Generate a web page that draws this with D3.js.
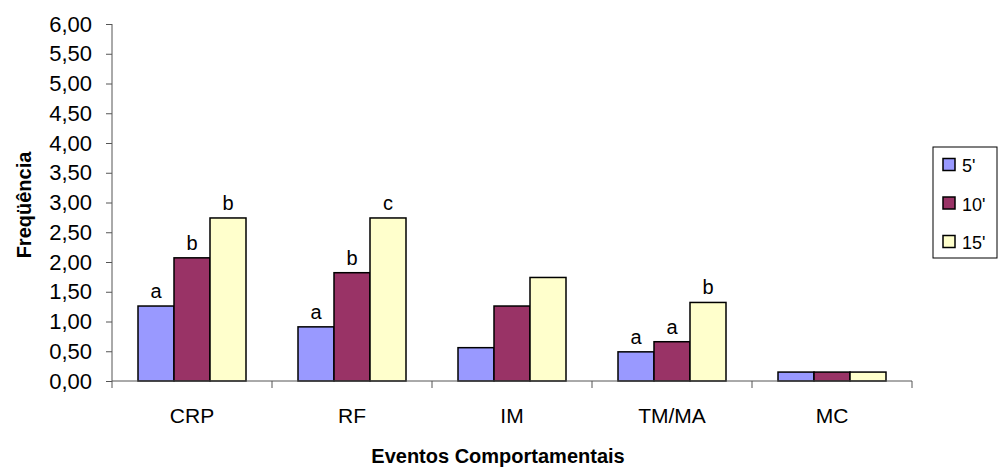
<html>
<script src="https://d3js.org/d3.v7.min.js"></script>
<body style="margin:0"></body>
<script>
const categories = ['CRP', 'RF', 'IM', 'TM/MA', 'MC'];
const series = ["5'", "10'", "15'"];
const values5 = [1.26, 0.91, 0.56, 0.49, 0.15];
const values10 = [2.07, 1.82, 1.26, 0.66, 0.15];
const values15 = [2.74, 2.74, 1.74, 1.32, 0.15];
const letters5 = ['a', 'a', '', 'a', ''];
const letters10 = ['b', 'b', '', 'a', ''];
const letters15 = ['b', 'c', '', 'b', ''];
const yTicks = [0, 0.5, 1, 1.5, 2, 2.5, 3, 3.5, 4, 4.5, 5, 5.5, 6];
const colors = ['#9999ff', '#993366', '#ffffcc'];

const width = 998, height = 468;
const font = 'Liberation Sans, Arial, sans-serif';
const svg = d3.select('body').append('svg')
  .attr('width', width).attr('height', height)
  .style('font-family', font);

const x = d3.scaleBand().domain(categories).range([112, 912]);
const xs = d3.scaleBand().domain(series).range([26, 134]);
const y = d3.scaleLinear().domain([0, 6]).range([381, 24]);

const rows = [];
categories.forEach((c, i) => {
  rows.push({c, s: series[0], v: values5[i], l: letters5[i], k: 0});
  rows.push({c, s: series[1], v: values10[i], l: letters10[i], k: 1});
  rows.push({c, s: series[2], v: values15[i], l: letters15[i], k: 2});
});

// bars
svg.append('g').selectAll('rect').data(rows).join('rect')
  .attr('x', d => x(d.c) + xs(d.s))
  .attr('y', d => y(d.v))
  .attr('width', xs.bandwidth())
  .attr('height', d => y(0) - y(d.v))
  .attr('fill', d => colors[d.k])
  .attr('stroke', '#000').attr('stroke-width', 1.5);

// letters above bars
svg.append('g').selectAll('text').data(rows.filter(d => d.l)).join('text')
  .attr('x', d => x(d.c) + xs(d.s) + xs.bandwidth() / 2)
  .attr('y', d => y(d.v) - 8)
  .attr('text-anchor', 'middle')
  .attr('font-size', 20)
  .text(d => d.l);

// y axis
const yAxis = svg.append('g').attr('transform', 'translate(112,0)')
  .call(d3.axisLeft(y).tickValues(yTicks).tickSize(6).tickPadding(14)
    .tickFormat(d => d3.format('.2f')(d).replace('.', ',')));
yAxis.selectAll('text').attr('font-size', 22).attr('fill', '#000').style('font-family', font);
yAxis.selectAll('line,path').attr('stroke', '#555');
yAxis.select('path').attr('d', 'M0,24V381');

// x axis
const xAxis = svg.append('g').attr('transform', 'translate(0,381)');
xAxis.append('line').attr('x1', 112).attr('x2', 912).attr('stroke', '#555');
xAxis.selectAll('.tk').data(categories.concat(['end'])).join('line')
  .attr('x1', (d, i) => i < categories.length ? x(d) : x.range()[1])
  .attr('x2', (d, i) => i < categories.length ? x(d) : x.range()[1])
  .attr('y1', 0).attr('y2', 7).attr('stroke', '#555');
xAxis.selectAll('text').data(categories).join('text')
  .attr('x', d => x(d) + x.bandwidth() / 2)
  .attr('y', 42)
  .attr('text-anchor', 'middle')
  .attr('font-size', 21)
  .text(d => d);

// titles
svg.append('text').attr('x', 498).attr('y', 463).attr('text-anchor', 'middle')
  .attr('font-size', 20).attr('font-weight', 'bold').text('Eventos Comportamentais');
svg.append('text').attr('transform', 'translate(31,205) rotate(-90)').attr('text-anchor', 'middle')
  .attr('font-size', 20).attr('font-weight', 'bold').text('Freqüência');

// legend
const lg = svg.append('g');
lg.append('rect').attr('x', 933).attr('y', 147).attr('width', 64).attr('height', 111)
  .attr('fill', '#fff').attr('stroke', '#000').attr('stroke-width', 1);
series.forEach((s, i) => {
  const cy = 165 + i * 38.5;
  lg.append('rect').attr('x', 943).attr('y', cy - 6.5).attr('width', 12).attr('height', 12)
    .attr('fill', colors[i]).attr('stroke', '#000').attr('stroke-width', 1.5);
  lg.append('text').attr('x', 962).attr('y', cy + 7).attr('font-size', 18).text(s);
});
</script>
</html>
